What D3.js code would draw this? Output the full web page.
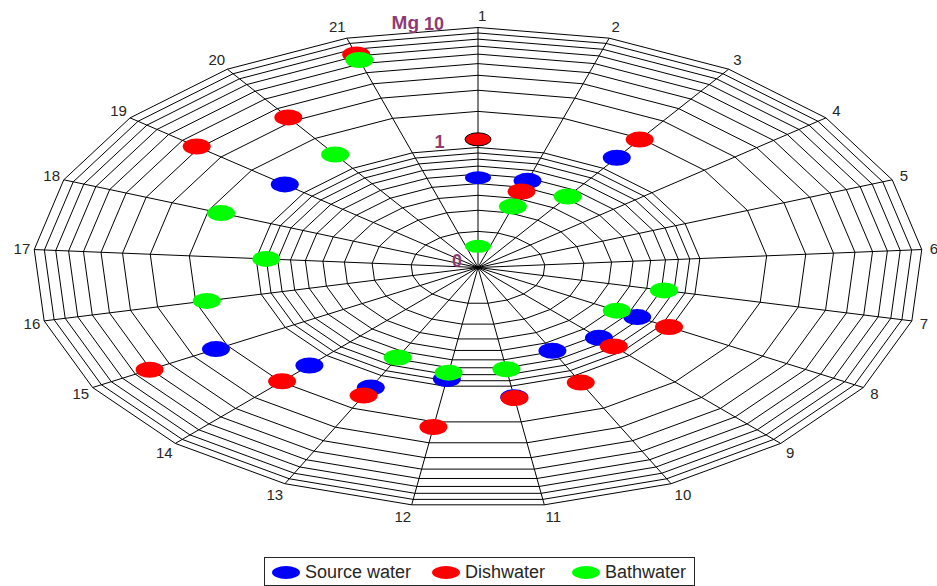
<!DOCTYPE html>
<html>
<head>
<meta charset="utf-8">
<script src="https://cdn.jsdelivr.net/npm/d3@7/dist/d3.min.js"></script>
<style>
  html, body { margin: 0; padding: 0; background: #fff; }
  svg { display: block; font-family: "Liberation Sans", Arial, sans-serif; }
</style>
</head>
<body>
<svg id="chart" width="937" height="586"></svg>
<script>
// Sampling points (one spoke each)
const spokes = d3.range(1, 22).map(String);

// Mg concentration per sampling point (null = not measured)
const sourceWater = [0.56, 0.57, 1.28, null, null, null, null, 0.67, 0.63, 0.59, 1.24,
                     0.87, 1.29, 1.30, 2.29, null, null, null, 1.29, null, null];
const dishwater   = [1.17, 0.46, 1.95, null, null, null, null, 0.98, 0.79, 1.16, 1.26,
                     2.21, 1.53, 1.97, 5.06, null, null, null, 4.14, 3.26, 7.2];
const bathwater   = [0.15, 0.34, 0.52, null, null, null, 0.72, 0.525, null, null, 0.72,
                     0.77, 0.68, null, null, 1.78, 0.90, 1.74, null, 1.38, 6.45];

const seriesNames  = ["Source water", "Dishwater", "Bathwater"];
const seriesColors = ["#0000ff", "#ff0000", "#00ff00"];

// Radial tick labels (log scale, centre = 0.1)
const radialTickValues = [0.1, 1, 10];
const radialTickLabels = ["0", "1", "10"];
const axisTitle = "Mg";

const svg = d3.select("#chart");
const cx = 478, cy = 267.5, rx = 445, ry = 240;

const rScale = d3.scaleLog().domain([0.1, 10]).range([0, 1]);
const angle = d3.scalePoint().domain(spokes).range([0, 2 * Math.PI * 20 / 21]);

function pt(spoke, value) {
  const a = angle(spoke), f = rScale(value);
  return [cx + rx * f * Math.sin(a), cy - ry * f * Math.cos(a)];
}

const grid = svg.append("g").attr("fill", "none").attr("stroke", "#000").attr("stroke-width", 1);

// Concentric polygon rings at each log tick
const ringValues = rScale.ticks().filter(v => v > 0.1);
const ringLine = d3.line().curve(d3.curveLinearClosed);
grid.selectAll("path.ring").data(ringValues).join("path")
  .attr("class", "ring")
  .attr("d", v => ringLine(spokes.map(s => pt(s, v))));

// Spokes
grid.selectAll("line.spoke").data(spokes).join("line")
  .attr("class", "spoke")
  .attr("x1", cx).attr("y1", cy)
  .attr("x2", s => pt(s, 10)[0])
  .attr("y2", s => pt(s, 10)[1]);

// Spoke labels
svg.append("g").selectAll("text").data(spokes).join("text")
  .attr("x", s => {
    const sn = Math.sin(angle(s));
    return pt(s, 10)[0] + (sn >= -1e-9 ? sn * 8 : sn * 4);
  })
  .attr("y", s => pt(s, 10)[1] - 12 * Math.cos(angle(s)))
  .attr("text-anchor", s => Math.sin(angle(s)) >= -1e-9 ? "start" : "end")
  .attr("dominant-baseline", "central")
  .attr("font-size", 15)
  .attr("fill", "#262626")
  .text(s => s);

// Markers
const seriesData = [sourceWater, dishwater, bathwater];
seriesData.forEach((vals, i) => {
  const pts = spokes.map((s, j) => ({ s, j, v: vals[j] })).filter(d => d.v != null);
  svg.append("g").selectAll("ellipse").data(pts).join("ellipse")
    .attr("cx", d => pt(d.s, d.v)[0])
    .attr("cy", d => pt(d.s, d.v)[1])
    .attr("rx", d => d.j === 0 ? 13 : 14)
    .attr("ry", d => d.j === 0 ? 6.5 : 8)
    .attr("fill", seriesColors[i])
    .attr("stroke", d => (d.j === 0 && i === 1) ? "#000" : "none")
    .attr("stroke-width", 1);
});

// Radial tick labels along the first spoke
const tickColor = "#8e3b73";
const tickG = svg.append("g").attr("fill", tickColor).attr("font-weight", "bold");
radialTickValues.forEach((v, i) => {
  const [x, y] = pt(spokes[0], v);
  const f = rScale(v);
  const lx = x - 21 - 23 * f - 6 * Math.sin(Math.PI * f);
  const ly = y - 7 + 3.5 * f;
  tickG.append("text")
    .attr("x", lx)
    .attr("y", ly)
    .attr("text-anchor", "middle")
    .attr("dominant-baseline", "central")
    .attr("font-size", 18)
    .text(radialTickLabels[i]);
  if (i === radialTickValues.length - 1) {
    tickG.append("text")
      .attr("x", lx - 15)
      .attr("y", ly - 2)
      .attr("text-anchor", "end")
      .attr("dominant-baseline", "central")
      .attr("font-size", 19)
      .text(axisTitle);
  }
});

// Legend
const legend = svg.append("g");
legend.append("rect")
  .attr("x", 264.5).attr("y", 557.5).attr("width", 430).attr("height", 28)
  .attr("fill", "#fff").attr("stroke", "#262626").attr("stroke-width", 1);
const legendX = [286, 446, 586];
seriesNames.forEach((name, i) => {
  legend.append("ellipse")
    .attr("cx", legendX[i]).attr("cy", 572.5)
    .attr("rx", 14).attr("ry", 6.5)
    .attr("fill", seriesColors[i]);
  legend.append("text")
    .attr("x", legendX[i] + 19).attr("y", 572)
    .attr("dominant-baseline", "central")
    .attr("font-size", 18)
    .attr("fill", "#262626")
    .text(name);
});
</script>
</body>
</html>
